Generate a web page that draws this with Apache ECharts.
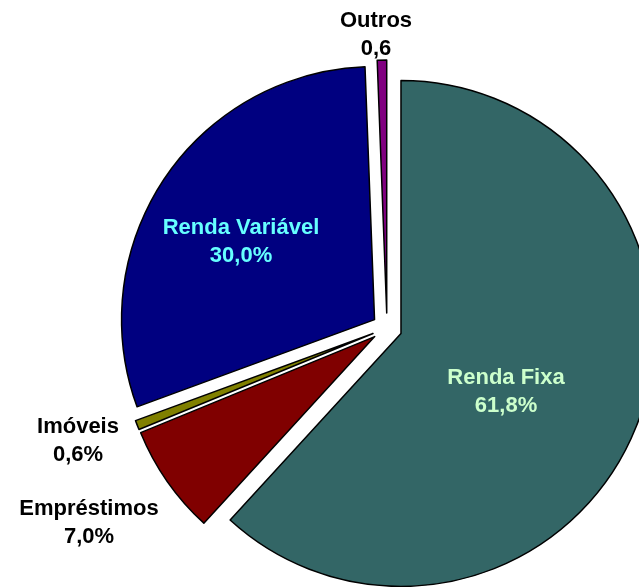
<!DOCTYPE html>
<html>
<head>
<meta charset="utf-8">
<script src="https://cdn.jsdelivr.net/npm/echarts@6/dist/echarts.min.js"></script>
<style>
html, body { margin: 0; padding: 0; background: #fff; }
#mycharts { width: 639px; height: 587px; }
</style>
</head>
<body>
<div id="mycharts"></div>
<script>
// dados do gráfico
var names = ['Renda Fixa', 'Empréstimos', 'Imóveis', 'Renda Variável', 'Outros'];
var values = [61.8, 7.0, 0.6, 30.0, 0.6];
var valueLabels = ['61,8%', '7,0%', '0,6%', '30,0%', '0,6'];

var colors = ['#336666', '#800000', '#808000', '#000080', '#800080'];
var labelColors = ['#CCFFCC', '#000000', '#000000', '#66FFFF', '#000000'];
// posição dos rótulos (centro do bloco de texto)
var labelPos = [[506, 392], [89, 523], [78, 441], [241, 242], [376, 35]];

var myChart = echarts.init(document.getElementById('mycharts'));
var seriesData = [];
var labels = [];
for (var i = 0; i < names.length; i++) {
	seriesData.push({
		name: names[i],
		value: values[i],
		selected: true,
		itemStyle: { color: colors[i] }
	});
	labels.push({
		type: 'text',
		silent: true,
		z: 100,
		style: {
			text: names[i] + '\n' + valueLabels[i],
			x: labelPos[i][0],
			y: labelPos[i][1],
			fill: labelColors[i],
			font: 'bold 22px "Liberation Sans", Arial, sans-serif',
			lineHeight: 28,
			align: 'center',
			verticalAlign: 'middle'
		}
	});
}
myChart.setOption({
	animation: false,
	backgroundColor: '#ffffff',
	graphic: labels,
	series: [{
		type: 'pie',
		center: [387, 328],
		radius: [0, 253],
		startAngle: 90,
		clockwise: true,
		selectedMode: 'multiple',
		selectedOffset: 15,
		itemStyle: { borderColor: '#000000', borderWidth: 1.5 },
		select: { itemStyle: { borderColor: '#000000', borderWidth: 1.5 } },
		emphasis: { disabled: true },
		label: { show: false },
		labelLine: { show: false },
		data: seriesData
	}]
});
</script>
</body>
</html>
